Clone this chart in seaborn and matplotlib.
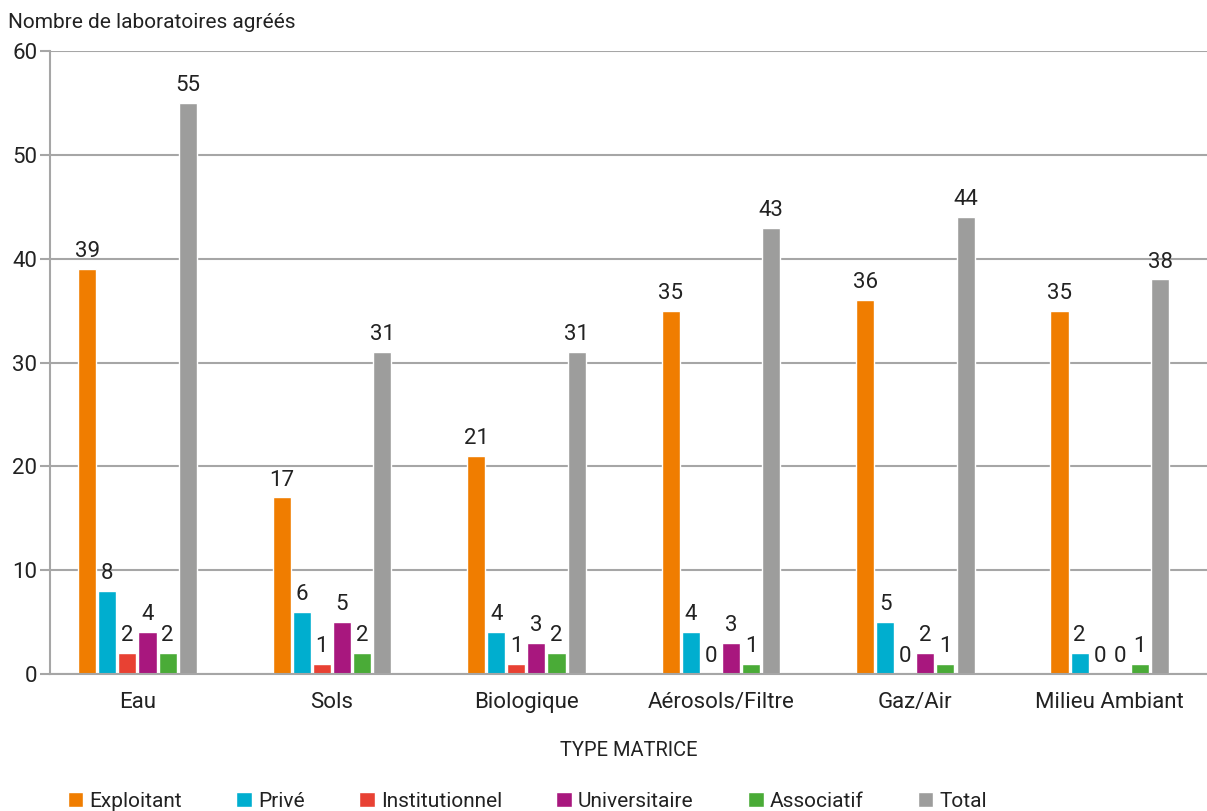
import matplotlib
matplotlib.use("Agg")
import matplotlib.pyplot as plt
import seaborn as sns
import pandas as pd

categories = ["Eau", "Sols", "Biologique", "Aérosols/Filtre", "Gaz/Air", "Milieu Ambiant"]
series_names = ["Exploitant", "Privé", "Institutionnel", "Universitaire", "Associatif", "Total"]
exploitant = [39, 17, 21, 35, 36, 35]
prive = [8, 6, 4, 4, 5, 2]
institutionnel = [2, 1, 1, 0, 0, 0]
universitaire = [4, 5, 3, 3, 2, 0]
associatif = [2, 2, 2, 1, 1, 1]
total = [55, 31, 31, 43, 44, 38]
colors = ["#F07D00", "#00AECF", "#E84133", "#A8177E", "#4AAB37", "#9D9D9C"]

rows = []
for name, vals in zip(series_names, [exploitant, prive, institutionnel, universitaire, associatif, total]):
    for cat, v in zip(categories, vals):
        rows.append({"Type": cat, "Catégorie": name, "Nombre": v})
df = pd.DataFrame(rows)

sns.set_theme(style="white")
plt.rcParams["font.family"] = ["Roboto", "DejaVu Sans"]

fig = plt.figure(figsize=(12.07, 8.11), dpi=100)
ax = fig.add_axes([0.0414, 0.169, 0.9586, 0.768])

sns.barplot(data=df, x="Type", y="Nombre", hue="Catégorie", order=categories,
            hue_order=series_names, palette=colors, width=0.62, gap=0.1,
            saturation=1, ax=ax, legend=True)

for cont in ax.containers:
    ax.bar_label(cont, fmt="%d", padding=5, fontsize=16, color="#222222")

ax.set_ylim(0, 60)
ax.set_xlim(-0.45, 5.50)
ax.set_yticks(range(0, 61, 10))
ax.yaxis.grid(True, color="#a6a6a6", linewidth=1.5)
ax.set_axisbelow(True)
for s in ["top", "right"]:
    ax.spines[s].set_visible(False)
for s in ["left", "bottom"]:
    ax.spines[s].set_color("#a6a6a6")
    ax.spines[s].set_linewidth(1.5)
ax.tick_params(axis="y", which="major", left=True, length=7, width=1.5, color="#a6a6a6",
               labelsize=16, labelcolor="#222222", pad=2)
ax.tick_params(axis="x", bottom=False, labelsize=16, labelcolor="#222222", pad=7)
ax.set_ylabel("")
ax.set_xlabel("TYPE MATRICE", fontsize=14.5, color="#222222", labelpad=20)
fig.text(0.007, 0.972, "Nombre de laboratoires agréés", fontsize=15, color="#222222",
         ha="left", va="center")

handles, labels = ax.get_legend_handles_labels()
ax.legend_.remove()
fig.legend(handles, labels, loc="center", bbox_to_anchor=(0.437, 0.012), ncol=6,
           frameon=False, fontsize=15, handlelength=0.75, handleheight=0.75,
           handletextpad=0.3, columnspacing=2.6, labelcolor="#222222")

fig.savefig("out.png", dpi=100)
